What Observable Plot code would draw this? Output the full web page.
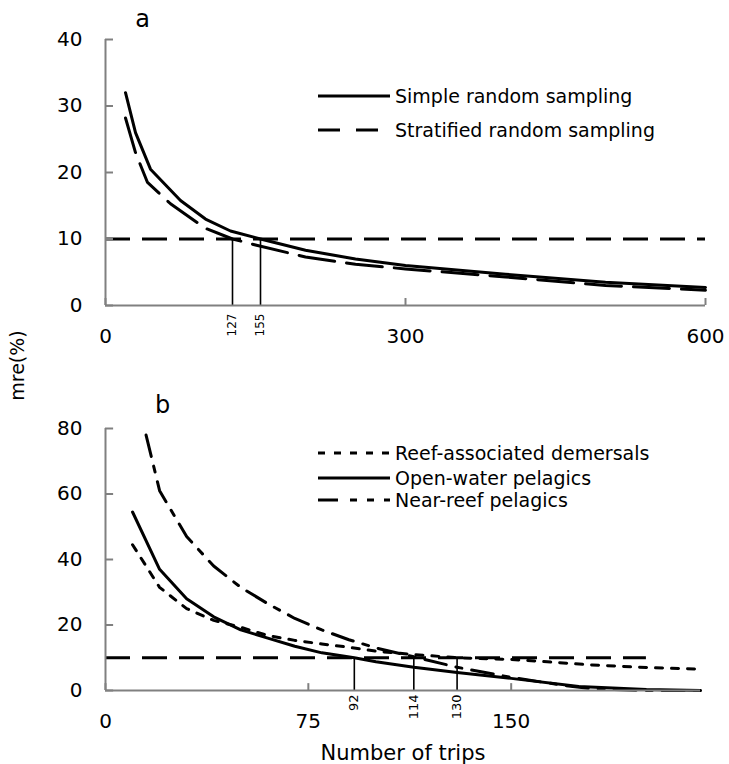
<!DOCTYPE html>
<html><head><meta charset="utf-8">
<script src="https://cdn.jsdelivr.net/npm/d3@7"></script>
<script src="https://cdn.jsdelivr.net/npm/@observablehq/plot@0.6"></script>
<style>
body{margin:0;background:#fff;font-family:"DejaVu Sans",sans-serif;}
#wrap{position:relative;width:729px;height:764px;overflow:hidden;}
#pa{position:absolute;left:0;top:0;z-index:2;}
#pb{position:absolute;left:0;top:390px;z-index:1;}
#pa svg{overflow:visible;}
.lg{position:absolute;left:318px;font-size:19px;color:#000;white-space:nowrap;display:flex;align-items:center;height:24px;z-index:3;}
.lg svg{display:block;margin-right:5px;}
</style></head>
<body>
<div id="wrap">
  <div id="pa"></div>
  <div id="pb"></div>
  <div id="legend"></div>
</div>
<script>
// ---- Panel a data ----
const tripsSimple = [20, 30, 45, 75, 100, 125, 155, 200, 250, 300, 400, 500, 600];
const mreSimple   = [32, 26, 20.5, 15.8, 13, 11.2, 10, 8.3, 7, 6, 4.7, 3.5, 2.7];
const tripsStrat  = [20, 30, 42, 65, 100, 127, 150, 200, 250, 300, 400, 500, 600];
const mreStrat    = [28.2, 23, 18.5, 15.3, 11.6, 10, 9.1, 7.3, 6.2, 5.5, 4.3, 3.0, 2.3];
const targetA = 10;
const thresholdsA = [127, 155];
const xTicksA = [0, 300, 600];
const yTicksA = [0, 10, 20, 30, 40];
const seriesA = ["Simple random sampling", "Stratified random sampling"];

// ---- Panel b data ----
const tripsReef = [10, 20, 30, 40, 50, 60, 70, 80, 90, 100, 114, 130, 150, 180, 200, 220];
const mreReef   = [44.5, 31.5, 25, 21.4, 19.3, 16.8, 15.3, 14.2, 13.2, 12, 11, 10, 9.5, 7.8, 7, 6.5];
const tripsOpen = [10, 20, 30, 40, 50, 60, 70, 80, 92, 100, 114, 130, 150, 175, 200, 220];
const mreOpen   = [54.5, 37, 28, 22.5, 18.5, 16, 13.5, 11.5, 10, 8.8, 7.1, 5.5, 3.7, 1.2, 0.3, 0];
const tripsNear = [15, 20, 30, 40, 50, 60, 70, 80, 90, 100, 114, 130, 150, 170, 180, 200, 220];
const mreNear   = [78, 61, 47, 38, 31.5, 26.5, 22, 18.5, 15.5, 13, 10.3, 7.1, 4, 1.5, 0.5, 0, 0];
const targetB = 10;
const targetBEnd = 200;
const thresholdsB = [92, 114, 130];
const xTicksB = [0, 75, 150];
const yTicksB = [0, 20, 40, 60, 80];
const seriesB = ["Reef-associated demersals", "Open-water pelagics", "Near-reef pelagics"];

const FONT = "DejaVu Sans";
const AX = "#808080";
const zip = (xs, ys) => xs.map((x, i) => ({x, y: ys[i]}));

// ---- Panel a ----
const pa = Plot.plot({
  width: 729, height: 390,
  marginTop: 39, marginBottom: 85, marginLeft: 105, marginRight: 24,
  style: {fontFamily: FONT, fontSize: "20px", background: "transparent", color: "#000", overflow: "visible"},
  x: {domain: [0, 600], label: null},
  y: {domain: [0, 40], label: null},
  marks: [
    Plot.ruleY([targetA], {x1: 0, x2: 600, stroke: "#000", strokeWidth: 3, strokeDasharray: "25,12"}),
    Plot.ruleX(thresholdsA, {y1: 0, y2: targetA, stroke: "#000", strokeWidth: 1.6}),
    Plot.line(zip(tripsStrat, mreStrat), {x: "x", y: "y", stroke: "#000", strokeWidth: 3, strokeDasharray: "36,12"}),
    Plot.line(zip(tripsSimple, mreSimple), {x: "x", y: "y", stroke: "#000", strokeWidth: 3}),
    Plot.ruleX([0], {y1: 0, y2: 40, stroke: AX, strokeWidth: 2}),
    Plot.ruleY([0], {x1: 0, x2: 600, stroke: AX, strokeWidth: 2}),
    Plot.ruleY(yTicksA, {x1: 0, x2: 8, stroke: AX, strokeWidth: 2}),
    Plot.ruleX(xTicksA, {y1: 0, y2: 1.05, stroke: AX, strokeWidth: 2}),
    Plot.axisY(yTicksA, {tickSize: 0, tickPadding: 23, fontSize: 20, label: null}),
    Plot.axisX(xTicksA, {tickSize: 0, tickPadding: 23, fontSize: 20, label: null}),
    Plot.text(thresholdsA, {x: d => d, y: 0, text: d => String(d), rotate: -90, textAnchor: "end", dy: 8, fontSize: 12}),
    Plot.text(["a"], {text: d => d, frameAnchor: "top-left", dx: 37, dy: -20, fontSize: 24, textAnchor: "middle", lineAnchor: "middle"}),
    Plot.text(["mre(%)"], {text: d => d, frameAnchor: "bottom-left", dx: -88, dy: 60, rotate: -90, fontSize: 19, textAnchor: "middle", lineAnchor: "middle"})
  ]
});
document.getElementById("pa").appendChild(pa);

// ---- Panel b ----
const pb = Plot.plot({
  width: 729, height: 374,
  marginTop: 38, marginBottom: 74, marginLeft: 105, marginRight: 29,
  style: {fontFamily: FONT, fontSize: "20px", background: "transparent", color: "#000"},
  x: {domain: [0, 220], label: null},
  y: {domain: [0, 80], label: null},
  marks: [
    Plot.ruleY([targetB], {x1: 0, x2: targetBEnd, stroke: "#000", strokeWidth: 3, strokeDasharray: "25,12"}),
    Plot.ruleX(thresholdsB, {y1: 0, y2: targetB, stroke: "#000", strokeWidth: 1.6}),
    Plot.line(zip(tripsReef, mreReef), {x: "x", y: "y", stroke: "#000", strokeWidth: 3, strokeDasharray: "7,9"}),
    Plot.line(zip(tripsNear, mreNear), {x: "x", y: "y", stroke: "#000", strokeWidth: 3, strokeDasharray: "22,10,6,10"}),
    Plot.line(zip(tripsOpen, mreOpen), {x: "x", y: "y", stroke: "#000", strokeWidth: 3}),
    Plot.ruleX([0], {y1: 0, y2: 80, stroke: AX, strokeWidth: 2}),
    Plot.ruleY([0], {x1: 0, x2: 220, stroke: AX, strokeWidth: 2}),
    Plot.ruleY(yTicksB, {x1: 0, x2: 3, stroke: AX, strokeWidth: 2}),
    Plot.ruleX(xTicksB, {y1: 0, y2: 2.1, stroke: AX, strokeWidth: 2}),
    Plot.axisY(yTicksB, {tickSize: 0, tickPadding: 23, fontSize: 20, label: null}),
    Plot.axisX(xTicksB, {tickSize: 0, tickPadding: 23, fontSize: 20, label: null}),
    Plot.text(thresholdsB, {x: d => d, y: 0, text: d => String(d), rotate: -90, textAnchor: "end", dy: 4, fontSize: 13}),
    Plot.text(["b"], {text: d => d, frameAnchor: "top-left", dx: 57, dy: -23, fontSize: 24, textAnchor: "middle", lineAnchor: "middle"}),
    Plot.text(["Number of trips"], {text: d => d, frameAnchor: "bottom", dy: 55, lineAnchor: "top", textAnchor: "middle", fontSize: 21})
  ]
});
document.getElementById("pb").appendChild(pb);

// ---- Legends ----
const legendSpecs = [
  {label: seriesA[0], top: 96, dash: null},
  {label: seriesA[1], top: 130, dash: "22,16"},
  {label: seriesB[0], top: 843 - 390, dash: "7,9"},
  {label: seriesB[1], top: 868 - 390, dash: null},
  {label: seriesB[2], top: 890 - 390, dash: "20,12,7,10,7,10,7,20"}
];
const lg = document.getElementById("legend");
legendSpecs.forEach(s => {
  const row = document.createElement("div");
  row.className = "lg";
  row.style.top = (s.top - 12) + "px";
  row.innerHTML = `<svg width="72" height="6"><line x1="0" x2="72" y1="3" y2="3" stroke="#000" stroke-width="3" ${s.dash ? `stroke-dasharray="${s.dash}"` : ""}/></svg><span>${s.label}</span>`;
  lg.appendChild(row);
});
</script>
</body></html>
